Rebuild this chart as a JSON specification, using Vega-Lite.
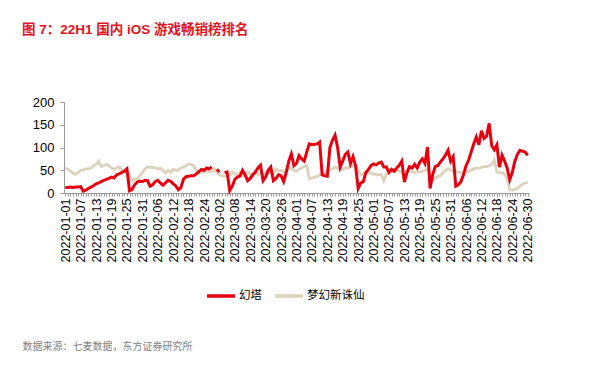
{
"$schema": "https://vega.github.io/schema/vega-lite/v6.json",
"width": 465, "height": 91,
"autosize": "none",
"padding": {"left": 64, "top": 102, "right": 71, "bottom": 182},
"background": "white",
"title": {"text": "图 7：22H1 国内 iOS 游戏畅销榜排名", "anchor": "start", "frame": "group", "dx": -42, "offset": 60, "color": "#E0141E", "fontSize": 13.5, "fontWeight": "bold", "font": "Liberation Sans, Noto Sans CJK SC"},
"data": {"values": [
{"date":"2022-01-01","huanta":12,"mengxian":55},{"date":"2022-01-02","huanta":12,"mengxian":52},{"date":"2022-01-03","huanta":13,"mengxian":48},{"date":"2022-01-04","huanta":12,"mengxian":44},{"date":"2022-01-05","huanta":13,"mengxian":41},{"date":"2022-01-06","huanta":13,"mengxian":45},{"date":"2022-01-07","huanta":14,"mengxian":50},{"date":"2022-01-08","huanta":4,"mengxian":51},{"date":"2022-01-09","huanta":6,"mengxian":53},{"date":"2022-01-10","huanta":10,"mengxian":53},
{"date":"2022-01-11","huanta":13,"mengxian":55},{"date":"2022-01-12","huanta":16,"mengxian":60},{"date":"2022-01-13","huanta":20,"mengxian":63},{"date":"2022-01-14","huanta":22,"mengxian":70},{"date":"2022-01-15","huanta":25,"mengxian":58},{"date":"2022-01-16","huanta":28,"mengxian":60},{"date":"2022-01-17","huanta":30,"mengxian":63},{"date":"2022-01-18","huanta":32,"mengxian":60},{"date":"2022-01-19","huanta":35,"mengxian":55},{"date":"2022-01-20","huanta":33,"mengxian":52},
{"date":"2022-01-21","huanta":40,"mengxian":56},{"date":"2022-01-22","huanta":42,"mengxian":57},{"date":"2022-01-23","huanta":45,"mengxian":50},{"date":"2022-01-24","huanta":48,"mengxian":45},{"date":"2022-01-25","huanta":53,"mengxian":46},{"date":"2022-01-26","huanta":5,"mengxian":40},{"date":"2022-01-27","huanta":8,"mengxian":26},{"date":"2022-01-28","huanta":18,"mengxian":30},{"date":"2022-01-29","huanta":24,"mengxian":32},{"date":"2022-01-30","huanta":26,"mengxian":38},
{"date":"2022-01-31","huanta":25,"mengxian":45},{"date":"2022-02-01","huanta":28,"mengxian":53},{"date":"2022-02-02","huanta":27,"mengxian":58},{"date":"2022-02-03","huanta":15,"mengxian":56},{"date":"2022-02-04","huanta":18,"mengxian":56},{"date":"2022-02-05","huanta":25,"mengxian":55},{"date":"2022-02-06","huanta":28,"mengxian":53},{"date":"2022-02-07","huanta":22,"mengxian":55},{"date":"2022-02-08","huanta":17,"mengxian":50},{"date":"2022-02-09","huanta":22,"mengxian":44},
{"date":"2022-02-10","huanta":28,"mengxian":50},{"date":"2022-02-11","huanta":26,"mengxian":45},{"date":"2022-02-12","huanta":20,"mengxian":52},{"date":"2022-02-13","huanta":16,"mengxian":50},{"date":"2022-02-14","huanta":7,"mengxian":50},{"date":"2022-02-15","huanta":12,"mengxian":55},{"date":"2022-02-16","huanta":30,"mengxian":57},{"date":"2022-02-17","huanta":36,"mengxian":60},{"date":"2022-02-18","huanta":37,"mengxian":64},{"date":"2022-02-19","huanta":38,"mengxian":62},
{"date":"2022-02-20","huanta":38,"mengxian":60},{"date":"2022-02-21","huanta":42,"mengxian":50},{"date":"2022-02-22","huanta":47,"mengxian":42},{"date":"2022-02-23","huanta":52,"mengxian":48},{"date":"2022-02-24","huanta":50,"mengxian":46},{"date":"2022-02-25","huanta":55,"mengxian":50},{"date":"2022-02-26","huanta":53,"mengxian":46},{"date":"2022-02-27","huanta":57,"mengxian":48},{"date":"2022-02-28","huanta":null,"mengxian":53},{"date":"2022-03-01","huanta":52,"mengxian":45},
{"date":"2022-03-02","huanta":46,"mengxian":40},{"date":"2022-03-03","huanta":null,"mengxian":38},{"date":"2022-03-04","huanta":45,"mengxian":37},{"date":"2022-03-05","huanta":46,"mengxian":38},{"date":"2022-03-06","huanta":5,"mengxian":40},{"date":"2022-03-07","huanta":15,"mengxian":46},{"date":"2022-03-08","huanta":30,"mengxian":42},{"date":"2022-03-09","huanta":35,"mengxian":40},{"date":"2022-03-10","huanta":37,"mengxian":45},{"date":"2022-03-11","huanta":50,"mengxian":38},
{"date":"2022-03-12","huanta":40,"mengxian":44},{"date":"2022-03-13","huanta":27,"mengxian":46},{"date":"2022-03-14","huanta":32,"mengxian":42},{"date":"2022-03-15","huanta":40,"mengxian":40},{"date":"2022-03-16","huanta":46,"mengxian":45},{"date":"2022-03-17","huanta":55,"mengxian":40},{"date":"2022-03-18","huanta":61,"mengxian":44},{"date":"2022-03-19","huanta":27,"mengxian":39},{"date":"2022-03-20","huanta":35,"mengxian":45},{"date":"2022-03-21","huanta":50,"mengxian":42},
{"date":"2022-03-22","huanta":57,"mengxian":48},{"date":"2022-03-23","huanta":27,"mengxian":44},{"date":"2022-03-24","huanta":32,"mengxian":53},{"date":"2022-03-25","huanta":40,"mengxian":48},{"date":"2022-03-26","huanta":38,"mengxian":50},{"date":"2022-03-27","huanta":25,"mengxian":46},{"date":"2022-03-28","huanta":45,"mengxian":50},{"date":"2022-03-29","huanta":70,"mengxian":53},{"date":"2022-03-30","huanta":86,"mengxian":55},{"date":"2022-03-31","huanta":60,"mengxian":50},
{"date":"2022-04-01","huanta":65,"mengxian":48},{"date":"2022-04-02","huanta":82,"mengxian":52},{"date":"2022-04-03","huanta":75,"mengxian":55},{"date":"2022-04-04","huanta":70,"mengxian":58},{"date":"2022-04-05","huanta":90,"mengxian":61},{"date":"2022-04-06","huanta":108,"mengxian":31},{"date":"2022-04-07","huanta":106,"mengxian":33},{"date":"2022-04-08","huanta":107,"mengxian":35},{"date":"2022-04-09","huanta":108,"mengxian":36},{"date":"2022-04-10","huanta":112,"mengxian":40},
{"date":"2022-04-11","huanta":40,"mengxian":42},{"date":"2022-04-12","huanta":38,"mengxian":45},{"date":"2022-04-13","huanta":37,"mengxian":48},{"date":"2022-04-14","huanta":100,"mengxian":50},{"date":"2022-04-15","huanta":116,"mengxian":53},{"date":"2022-04-16","huanta":127,"mengxian":57},{"date":"2022-04-17","huanta":100,"mengxian":55},{"date":"2022-04-18","huanta":57,"mengxian":50},{"date":"2022-04-19","huanta":70,"mengxian":52},{"date":"2022-04-20","huanta":85,"mengxian":55},
{"date":"2022-04-21","huanta":90,"mengxian":55},{"date":"2022-04-22","huanta":65,"mengxian":58},{"date":"2022-04-23","huanta":80,"mengxian":60},{"date":"2022-04-24","huanta":60,"mengxian":61},{"date":"2022-04-25","huanta":10,"mengxian":50},{"date":"2022-04-26","huanta":22,"mengxian":40},{"date":"2022-04-27","huanta":25,"mengxian":42},{"date":"2022-04-28","huanta":45,"mengxian":45},{"date":"2022-04-29","huanta":52,"mengxian":45},{"date":"2022-04-30","huanta":60,"mengxian":43},
{"date":"2022-05-01","huanta":64,"mengxian":42},{"date":"2022-05-02","huanta":62,"mengxian":40},{"date":"2022-05-03","huanta":66,"mengxian":41},{"date":"2022-05-04","huanta":68,"mengxian":40},{"date":"2022-05-05","huanta":57,"mengxian":27},{"date":"2022-05-06","huanta":57,"mengxian":42},{"date":"2022-05-07","huanta":45,"mengxian":45},{"date":"2022-05-08","huanta":52,"mengxian":48},{"date":"2022-05-09","huanta":48,"mengxian":47},{"date":"2022-05-10","huanta":55,"mengxian":50},
{"date":"2022-05-11","huanta":61,"mengxian":48},{"date":"2022-05-12","huanta":70,"mengxian":46},{"date":"2022-05-13","huanta":24,"mengxian":35},{"date":"2022-05-14","huanta":45,"mengxian":42},{"date":"2022-05-15","huanta":58,"mengxian":48},{"date":"2022-05-16","huanta":55,"mengxian":47},{"date":"2022-05-17","huanta":63,"mengxian":45},{"date":"2022-05-18","huanta":55,"mengxian":46},{"date":"2022-05-19","huanta":68,"mengxian":46},{"date":"2022-05-20","huanta":75,"mengxian":48},
{"date":"2022-05-21","huanta":65,"mengxian":50},{"date":"2022-05-22","huanta":101,"mengxian":53},{"date":"2022-05-23","huanta":10,"mengxian":40},{"date":"2022-05-24","huanta":40,"mengxian":28},{"date":"2022-05-25","huanta":58,"mengxian":32},{"date":"2022-05-26","huanta":60,"mengxian":36},{"date":"2022-05-27","huanta":68,"mengxian":38},{"date":"2022-05-28","huanta":75,"mengxian":45},{"date":"2022-05-29","huanta":83,"mengxian":50},{"date":"2022-05-30","huanta":94,"mengxian":53},
{"date":"2022-05-31","huanta":70,"mengxian":50},{"date":"2022-06-01","huanta":80,"mengxian":48},{"date":"2022-06-02","huanta":15,"mengxian":48},{"date":"2022-06-03","huanta":18,"mengxian":46},{"date":"2022-06-04","huanta":25,"mengxian":45},{"date":"2022-06-05","huanta":40,"mengxian":44},{"date":"2022-06-06","huanta":60,"mengxian":46},{"date":"2022-06-07","huanta":72,"mengxian":48},{"date":"2022-06-08","huanta":90,"mengxian":50},{"date":"2022-06-09","huanta":108,"mengxian":53},
{"date":"2022-06-10","huanta":123,"mengxian":55},{"date":"2022-06-11","huanta":106,"mengxian":54},{"date":"2022-06-12","huanta":137,"mengxian":56},{"date":"2022-06-13","huanta":120,"mengxian":58},{"date":"2022-06-14","huanta":125,"mengxian":58},{"date":"2022-06-15","huanta":153,"mengxian":60},{"date":"2022-06-16","huanta":104,"mengxian":62},{"date":"2022-06-17","huanta":95,"mengxian":72},{"date":"2022-06-18","huanta":106,"mengxian":46},{"date":"2022-06-19","huanta":57,"mengxian":45},
{"date":"2022-06-20","huanta":83,"mengxian":44},{"date":"2022-06-21","huanta":70,"mengxian":42},{"date":"2022-06-22","huanta":55,"mengxian":31},{"date":"2022-06-23","huanta":29,"mengxian":7},{"date":"2022-06-24","huanta":45,"mengxian":6},{"date":"2022-06-25","huanta":70,"mengxian":8},{"date":"2022-06-26","huanta":85,"mengxian":10},{"date":"2022-06-27","huanta":94,"mengxian":15},{"date":"2022-06-28","huanta":92,"mengxian":20},{"date":"2022-06-29","huanta":90,"mengxian":22},
{"date":"2022-06-30","huanta":83,"mengxian":23}
]},
"encoding": {
  "x": {"field": "date", "type": "ordinal", "sort": null,
    "scale": {"type": "point", "padding": 0.5},
    "axis": {
      "title": "数据来源：七麦数据，东方证券研究所", "titleAnchor": "start", "titleAlign": "left", "titleBaseline": "alphabetic",
      "titleX": -42, "titleY": 156, "titleFontSize": 10, "titleFontWeight": "normal", "titleColor": "#808080",
      "titleFont": "Liberation Sans, Noto Sans CJK SC",
      "labelExpr": "round((toDate(datum.value) - toDate('2022-01-01')) / 86400000) % 6 == 0 ? datum.value : ''",
      "labelAngle": -90, "labelFontSize": 12.5, "labelColor": "#000000", "labelOverlap": false, "labelBound": false,
      "labelPadding": 2, "labelFont": "Liberation Sans",
      "tickSize": 3, "tickColor": "#999999", "domainColor": "#999999", "grid": false
    }
  }
},
"layer": [
  {"mark": {"type": "line", "strokeWidth": 2.8},
   "encoding": {
     "y": {"field": "mengxian", "type": "quantitative", "scale": {"domain": [0, 200], "nice": false},
       "axis": {"title": null, "values": [0, 50, 100, 150, 200], "labelFontSize": 13, "labelColor": "#000000", "labelFont": "Liberation Sans",
         "labelOverlap": false, "labelBound": false, "labelFlush": false,
         "tickSize": 4, "tickColor": "#999999", "domainColor": "#999999", "grid": false, "labelPadding": 6}},
     "color": {"datum": "梦幻新诛仙", "type": "nominal",
       "scale": {"domain": ["幻塔", "梦幻新诛仙"], "range": ["#E5000F", "#DDD3BC"]},
       "legend": {"orient": "none", "legendX": 141, "legendY": 178, "direction": "horizontal", "title": null,
         "symbolType": "stroke", "symbolSize": 784, "symbolStrokeWidth": 3.5, "labelFontSize": 11.5, "labelColor": "#000000",
         "labelFont": "Noto Sans CJK SC", "columnPadding": 6, "labelOffset": 2}}
   }},
  {"mark": {"type": "line", "strokeWidth": 3},
   "encoding": {
     "y": {"field": "huanta", "type": "quantitative", "scale": {"domain": [0, 200], "nice": false},
       "axis": {"title": null, "values": [0, 50, 100, 150, 200], "labelFontSize": 13, "labelColor": "#000000", "labelFont": "Liberation Sans",
         "labelOverlap": false, "labelBound": false, "labelFlush": false,
         "tickSize": 4, "tickColor": "#999999", "domainColor": "#999999", "grid": false, "labelPadding": 6}},
     "color": {"datum": "幻塔", "type": "nominal"}
   }}
],
"config": {"view": {"stroke": null}, "font": "Liberation Sans, Noto Sans CJK SC"}
}
